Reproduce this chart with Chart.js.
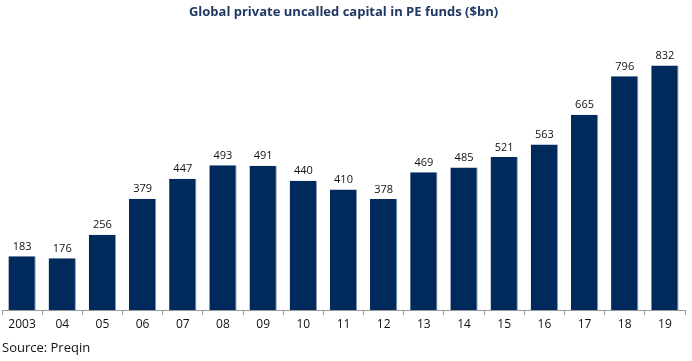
<!DOCTYPE html>
<html>
<head>
<meta charset="utf-8">
<script src="https://cdn.jsdelivr.net/npm/chart.js@4"></script>
<style>
html,body{margin:0;padding:0;background:#fff;}
#wrap{width:692px;height:361px;position:relative;}
</style>
</head>
<body>
<div id="wrap"><canvas id="c"></canvas></div>
<script>
const categories = ["2003","04","05","06","07","08","09","10","11","12","13","14","15","16","17","18","19"];
const uncalledCapital = [183,176,256,379,447,493,491,440,410,378,469,485,521,563,665,796,832];
const titleText = "Global private uncalled capital in PE funds ($bn)";
const sourceText = "Source: Preqin";

const navy = "#002a5c";
const fontFamily = "'Open Sans', 'DejaVu Sans', sans-serif";

const valueLabels = {
  id: "valueLabels",
  afterDatasetsDraw(chart) {
    const ctx = chart.ctx;
    const meta = chart.getDatasetMeta(0);
    ctx.save();
    ctx.font = "11px " + fontFamily;
    ctx.fillStyle = "#111";
    ctx.textAlign = "center";
    ctx.textBaseline = "bottom";
    meta.data.forEach((bar, i) => {
      ctx.fillText(String(uncalledCapital[i]), bar.x, bar.y - 4);
    });
    ctx.restore();
  }
};

new Chart(document.getElementById("c"), {
  type: "bar",
  data: {
    labels: categories,
    datasets: [{
      data: uncalledCapital,
      backgroundColor: navy,
      borderColor: "#8a9bb5",
      borderWidth: {right: 1, left: 0, top: 0, bottom: 0},
      categoryPercentage: 1,
      barPercentage: 0.68
    }]
  },
  options: {
    responsive: true,
    maintainAspectRatio: false,
    animation: false,
    layout: {padding: {left: 2, right: 7, top: 0, bottom: 4}},
    plugins: {
      legend: {display: false},
      tooltip: {enabled: false},
      title: {
        display: true,
        text: titleText,
        color: "#1f3864",
        font: {family: fontFamily, size: 13, weight: "bold"},
        padding: {top: 4, bottom: 26}
      },
      subtitle: {
        display: true,
        text: sourceText,
        position: "bottom",
        align: "start",
        color: "#111",
        font: {family: fontFamily, size: 13},
        padding: {top: 7, bottom: 1}
      }
    },
    scales: {
      x: {
        grid: {display: true, drawOnChartArea: false, drawTicks: true, tickLength: 5, color: "#999", offset: true},
        border: {display: true, color: "#999", width: 1},
        ticks: {color: "#111", font: {family: fontFamily, size: 12}, padding: 2, maxRotation: 0, autoSkip: false}
      },
      y: {
        display: false,
        min: 0,
        max: 900
      }
    }
  },
  plugins: [valueLabels]
});
</script>
</body>
</html>
